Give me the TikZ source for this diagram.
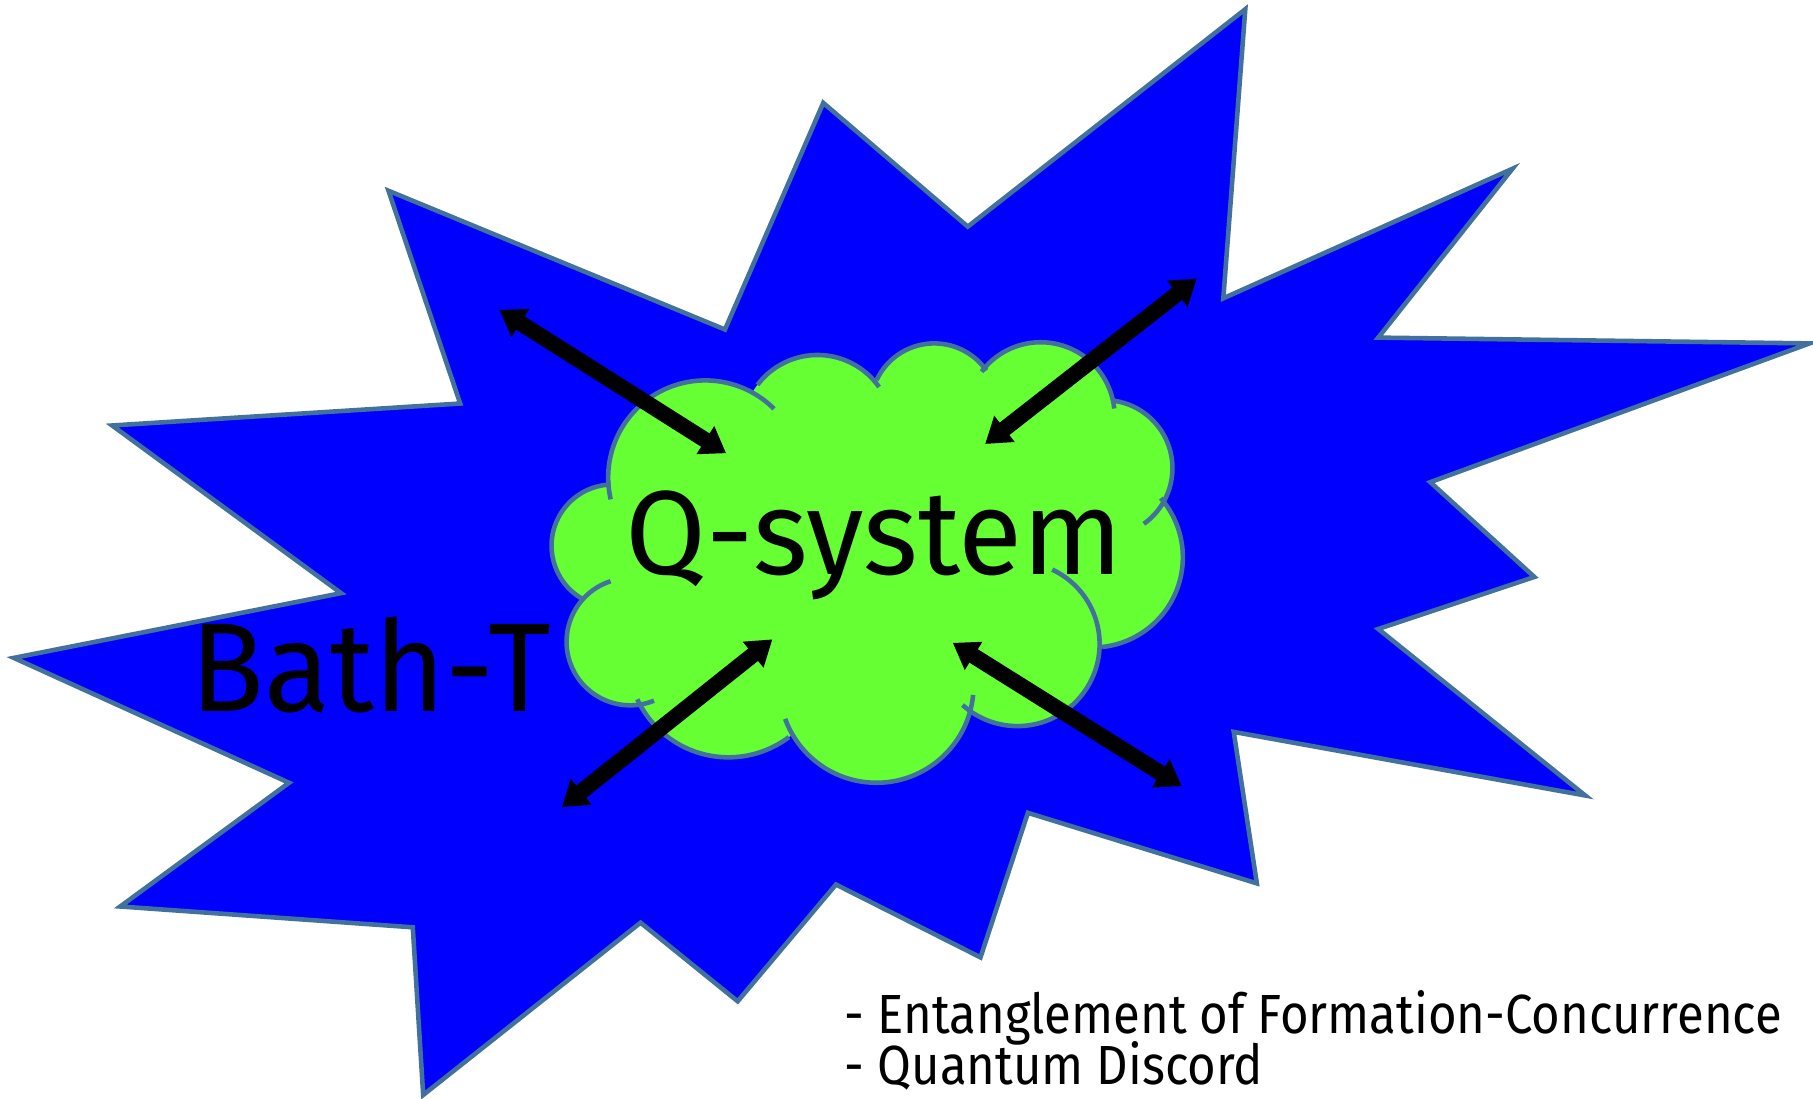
\documentclass[tikz,border=0pt]{standalone}
\usepackage{fontspec}
\usepackage{graphicx}
\setmainfont{Fira Sans}
\usetikzlibrary{arrows.meta, positioning}
\definecolor{bathBlue}{HTML}{0000FF}
\definecolor{edgeBlue}{HTML}{41719C}
\definecolor{cloudGreen}{HTML}{66FF33}

\begin{document}
\begin{tikzpicture}[x=0.0115625cm, y=-0.0115625cm,
    edge/.style={edgeBlue, line width=1.3pt},
    link/.style={{Triangle[length=7pt,width=9pt]}-{Triangle[length=7pt,width=9pt]}, line width=4.5pt}]
  \useasboundingbox (0,0) rectangle (1568,950);
  % the bath
  \draw[edge, fill=bathBlue] (1077,8) -- (1058,258) -- (1308,146) -- (1192,292)
    -- (1565,297) -- (1237,417) -- (1327,499) -- (1192,544) -- (1371,688)
    -- (1067,633) -- (1087,764) -- (889,703) -- (848,828) -- (723,765)
    -- (638,866) -- (554,798) -- (366,947) -- (357,802) -- (104,784)
    -- (250,677) -- (12,569) -- (295,513) -- (97,368) -- (398,349)
    -- (336,165) -- (627,285) -- (712,89) -- (837,196) -- cycle;
  % the cloud
  \foreach \cx/\cy/\r/\a/\b in {610/413/84/-193/-45, 707/372/65/-143/-35,
      808/352/55/-155/-35, 900/360/64/-143/-6, 955/405/59/-82.5/54.5,
      945/482/78/-41/84, 880/557/71/-65/132, 758/593/84/5.5/160,
      630/568/87/53/155, 545/555/55/68/252, 530/472/53/120/268}
    \fill[cloudGreen] (\cx,\cy) circle[radius=\r];
  \fill[cloudGreen] (610,413) -- (707,372) -- (808,352) -- (900,360) -- (955,405)
    -- (945,482) -- (880,557) -- (758,593) -- (630,568) -- (545,555) -- (530,472) -- cycle;
  \foreach \cx/\cy/\r/\a/\b in {610/413/84/-193/-45, 707/372/65/-143/-35,
      808/352/55/-155/-35, 900/360/64/-143/-6, 955/405/59/-82.5/54.5,
      945/482/78/-41/84, 880/557/71/-65/132, 758/593/84/5.5/160,
      630/568/87/53/155, 545/555/55/68/252, 530/472/53/120/268}
    \draw[edge] (\cx,\cy) ++(\a:\r) arc[start angle=\a, end angle=\b, radius=\r];
  % labels
  \node[anchor=base, inner sep=0pt] (qsys) at (756,497) {\fontsize{34}{40}\selectfont\scalebox{0.98}[1]{Q-system}};
  \node[anchor=base, inner sep=0pt] (bath) at (321,615) {\fontsize{36}{42}\selectfont\scalebox{0.96}[1]{Bath-T}};
  \node[anchor=base west, inner sep=0pt] (eof) at (730,894) {\fontsize{15.7}{18}\selectfont\scalebox{0.89}[1]{- Entanglement of Formation-Concurrence}};
  \node[anchor=base west, inner sep=0pt] (disc) at (730,938) {\fontsize{15.7}{18}\selectfont\scalebox{0.89}[1]{- Quantum Discord}};
  % exchange with the bath
  \coordinate (nwOut) at (432,268);
  \coordinate (nwIn) at (628,392);
  \coordinate (neOut) at (1035,241);
  \coordinate (neIn) at (852,384);
  \coordinate (swOut) at (486,698);
  \coordinate (swIn) at (668,553);
  \coordinate (seOut) at (1022,680);
  \coordinate (seIn) at (824,556);
  \draw[link] (nwOut) -- (nwIn);
  \draw[link] (neOut) -- (neIn);
  \draw[link] (swOut) -- (swIn);
  \draw[link] (seOut) -- (seIn);
\end{tikzpicture}
\end{document}
